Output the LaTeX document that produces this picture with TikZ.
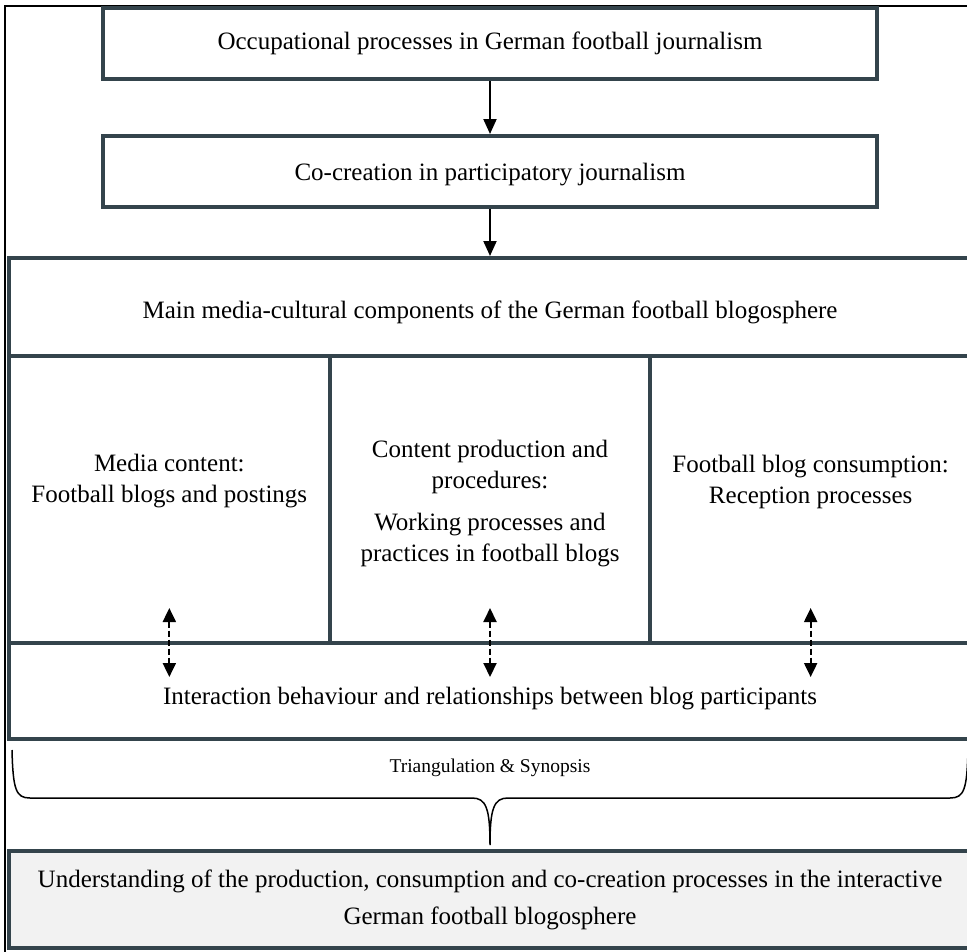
\documentclass[tikz,border=0pt]{standalone}
\usepackage{fontspec}
\setmainfont{Liberation Serif}
\usetikzlibrary{arrows.meta,positioning}
\definecolor{boxline}{HTML}{34444C}

\begin{document}
\begin{tikzpicture}[
  x=1pt, y=-1pt,
  font=\fontsize{25}{31}\selectfont,
  box/.style={draw=boxline, line width=4pt, outer sep=0pt, inner sep=0pt, align=center, minimum width=774pt, minimum height=71pt},
  band/.style={draw=boxline, line width=4pt, outer sep=0pt, inner sep=0pt, align=center, minimum width=962pt},
  cell/.style={draw=boxline, line width=4pt, outer sep=0pt, inner sep=0pt, minimum width=320.67pt, minimum height=287pt},
  txt/.style={align=center, inner sep=0pt},
  arr/.style={-{Triangle[length=15pt,width=13pt]}, line width=2pt, shorten >=2pt, shorten <=2pt},
  dbl/.style={{Triangle[length=14pt,width=13pt]}-{Triangle[length=14pt,width=13pt]}, line width=2pt, dash pattern=on 6pt off 3pt}
]
  \clip (0,0) rectangle (967,951);
  \draw[line width=1.5pt] (5,6) rectangle (990,975);

  \node[box] (occup) at (490,43.5) {Occupational processes in German football journalism};
  \node[box, below=57pt of occup] (cocre) {};
  \node[band, minimum height=98pt, below=51pt of cocre] (mainc) {};
  \node[cell, anchor=north west] (media) at (mainc.south west) {};
  \node[cell, right=0pt of media] (produc) {};
  \node[cell, right=0pt of produc] (consum) {};
  \node[band, minimum height=96pt, below=0pt of produc] (interac) {};
  \node[band, fill=gray!10, minimum height=97pt, below=112pt of interac] (underst) {Understanding of the production, consumption and co-creation processes in the interactive\\[6pt]German football blogosphere};

  \node[txt] (cocretxt) at ([yshift=-3pt]cocre.center) {Co-creation in participatory journalism};
  \node[txt] (mainctxt) at ([yshift=-5pt]mainc.center) {Main media-cultural components of the German football blogosphere};
  \node[txt] (mediatxt) at ([yshift=18pt]media.center) {Media content:\\Football blogs and postings};
  \node[txt] (produtxt) at ([yshift=-4pt]produc.center) {Content production and\\procedures:\\[11pt]Working processes and\\practices in football blogs};
  \node[txt] (consutxt) at ([yshift=18pt]consum.center) {Football blog consumption:\\Reception processes};
  \node[txt] (interatxt) at ([yshift=-8pt]interac.center) {Interaction behaviour and relationships between blog participants};

  \draw[arr] (occup) -- (cocre);
  \draw[arr] (cocre) -- (mainc);
  \foreach \c in {media,produc,consum}
    \draw[dbl] ([yshift=35pt]\c.south) -- ([yshift=-34pt]\c.south);

  % brace below the interaction band
  \draw[line width=1.5pt] (12,750) .. controls (13,790) and (16,798) .. (30,798) -- (472,798)
    .. controls (486,798) and (490,808) .. (490,845) .. controls (490,808) and (494,798) .. (508,798)
    -- (950,798) .. controls (964,798) and (967,790) .. (968,750);
  \node[font=\fontsize{19.5}{24}\selectfont] (triang) at (490,768) {Triangulation \& Synopsis};
\end{tikzpicture}
\end{document}
